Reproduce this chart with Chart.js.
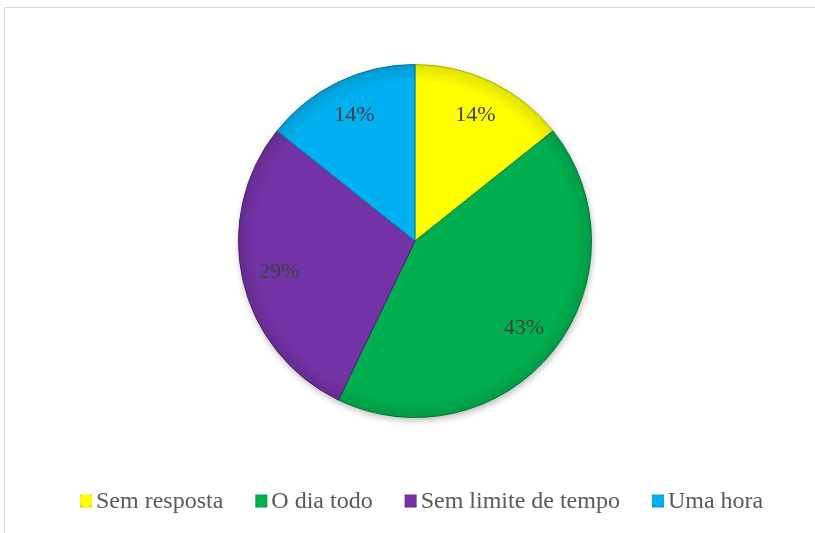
<!DOCTYPE html>
<html>
<head>
<meta charset="utf-8">
<script src="https://cdn.jsdelivr.net/npm/chart.js@4/dist/chart.umd.min.js"></script>
<style>
  html, body { margin: 0; padding: 0; background: #fff; }
  body { width: 815px; height: 533px; position: relative; overflow: hidden; }
  #frame { position: absolute; left: 4px; top: 7px; width: 830px; height: 540px;
           border: 1px solid #d9d9d9; box-sizing: border-box; }
  #wrap { position: absolute; left: 0; top: 0; width: 815px; height: 533px; }
</style>
</head>
<body>
<div id="frame"></div>
<div id="wrap"><canvas id="c" width="815" height="533"></canvas></div>
<script>
// Duração do uso — respostas
const categories = ['Sem resposta', 'O dia todo', 'Sem limite de tempo', 'Uma hora'];
const counts = [1, 3, 2, 1];
const percentLabels = ['14%', '43%', '29%', '14%'];
const sliceColors = ['#FFFF00', '#00B050', '#7433A6', '#00B0F0'];
const edgeColors = ['#b8b800', '#007a38', '#4e1f70', '#0078a8'];

const SERIF = '"Liberation Serif", "Times New Roman", serif';

// Soft drop shadow under the whole pie
const pieShadow = {
  id: 'pieShadow',
  beforeDatasetsDraw(chart) {
    const arc = chart.getDatasetMeta(0).data[0];
    if (!arc) return;
    const { x, y, outerRadius } = arc.getProps(['x', 'y', 'outerRadius'], true);
    const ctx = chart.ctx;
    ctx.save();
    ctx.shadowColor = 'rgba(0,0,0,0.28)';
    ctx.shadowBlur = 7;
    ctx.shadowOffsetX = 1;
    ctx.shadowOffsetY = 3;
    ctx.beginPath();
    ctx.arc(x, y, outerRadius, 0, Math.PI * 2);
    ctx.fillStyle = '#ffffff';
    ctx.fill();
    ctx.restore();
  }
};

// Slight darkening toward the rim, then the percentage labels
const pieLabels = {
  id: 'pieLabels',
  afterDatasetsDraw(chart) {
    const meta = chart.getDatasetMeta(0);
    const ctx = chart.ctx;
    const c = meta.data[0].getProps(['x', 'y', 'outerRadius'], true);
    ctx.save();
    const g = ctx.createRadialGradient(c.x, c.y, c.outerRadius * 0.9, c.x, c.y, c.outerRadius);
    g.addColorStop(0, 'rgba(0,0,0,0)');
    g.addColorStop(1, 'rgba(0,0,0,0.12)');
    ctx.beginPath();
    ctx.arc(c.x, c.y, c.outerRadius, 0, Math.PI * 2);
    ctx.fillStyle = g;
    ctx.fill();
    ctx.restore();

    ctx.save();
    ctx.font = '22px ' + SERIF;
    ctx.fillStyle = '#404040';
    ctx.textAlign = 'center';
    ctx.textBaseline = 'middle';
    meta.data.forEach((arc, i) => {
      const p = arc.getProps(['x', 'y', 'startAngle', 'endAngle', 'outerRadius'], true);
      const mid = (p.startAngle + p.endAngle) / 2;
      const r = p.outerRadius * 0.79;
      ctx.fillText(percentLabels[i], p.x + Math.cos(mid) * r, p.y + Math.sin(mid) * r);
    });
    ctx.restore();
  }
};

// Horizontal legend row under the pie, built from the chart's labels and colours
const bottomLegend = {
  id: 'bottomLegend',
  afterDraw(chart) {
    const ctx = chart.ctx;
    const ds = chart.data.datasets[0];
    const boxW = 12, boxH = 13, gap = 4, itemGap = 32, cy = 501;
    let x = 80;
    ctx.save();
    ctx.font = '24px ' + SERIF;
    ctx.textBaseline = 'middle';
    ctx.textAlign = 'left';
    chart.data.labels.forEach((label, i) => {
      const by = cy - boxH / 2;
      const g = ctx.createRadialGradient(x + boxW / 2, by + boxH * 0.4, 1, x + boxW / 2, by + boxH / 2, boxW * 0.8);
      g.addColorStop(0, ds.backgroundColor[i]);
      g.addColorStop(0.55, ds.backgroundColor[i]);
      g.addColorStop(1, ds.borderColor[i]);
      ctx.fillStyle = g;
      ctx.fillRect(x, by, boxW, boxH);
      x += boxW + gap;
      ctx.fillStyle = '#595959';
      ctx.fillText(label, x, cy + 1);
      x += ctx.measureText(label).width + itemGap;
    });
    ctx.restore();
  }
};

const chart = new Chart(document.getElementById('c'), {
  type: 'pie',
  data: {
    labels: categories,
    datasets: [{
      data: counts,
      backgroundColor: sliceColors,
      borderColor: edgeColors,
      borderWidth: 1
    }]
  },
  options: {
    responsive: false,
    animation: false,
    layout: { padding: { left: 238, right: 223, top: 64, bottom: 115 } },
    plugins: {
      legend: { display: false },
      tooltip: { enabled: false }
    }
  },
  plugins: [pieShadow, pieLabels, bottomLegend]
});
</script>
</body>
</html>
